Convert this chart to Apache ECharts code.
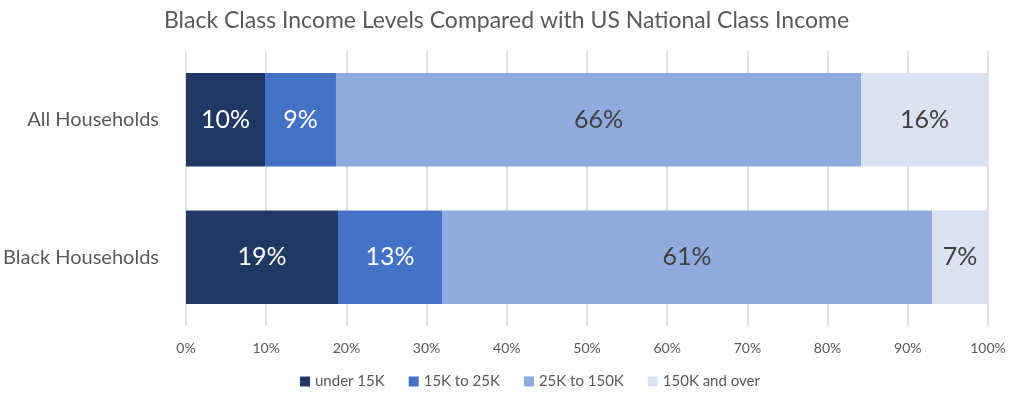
<!DOCTYPE html>
<html>
<head>
<meta charset="utf-8">
<script src="https://cdn.jsdelivr.net/npm/echarts@6/dist/echarts.min.js"></script>
<style>html,body{margin:0;padding:0;background:#fff;}#c{width:1013px;height:395px;}</style>
</head>
<body>
<div id="c"></div>
<script>
const categories = ['All Households', 'Black Households'];
const seriesNames = ['under 15K', '15K to 25K', '25K to 150K', '150K and over'];
const under15K = [9.85, 18.95];
const k15to25 = [8.85, 12.97];
const k25to150 = [65.5, 61.1];
const k150plus = [15.8, 6.98];
const xTicks = [0, 10, 20, 30, 40, 50, 60, 70, 80, 90, 100];

const colors = ['#203864', '#4472C4', '#8FAADC', '#DAE3F3'];
const labelColors = ['#ffffff', '#ffffff', '#404040', '#404040'];
const font = 'Lato, "Open Sans", sans-serif';
const values = [under15K, k15to25, k25to150, k150plus];

const chart = echarts.init(document.getElementById('c'));
chart.setOption({
  animation: false,
  title: {
    text: 'Black Class Income Levels Compared with US National Class Income',
    left: 'center', top: 4,
    textStyle: { fontFamily: font, fontSize: 23, fontWeight: 'normal', color: '#595959' }
  },
  legend: {
    bottom: 1, left: 295, icon: 'rect', itemWidth: 10, itemHeight: 10, itemGap: 24,
    textStyle: { fontFamily: font, fontSize: 15, color: '#595959' },
    data: seriesNames
  },
  grid: { left: 186, right: 25, top: 51, bottom: 69 },
  xAxis: {
    type: 'value', min: xTicks[0], max: xTicks[xTicks.length - 1], interval: 10,
    axisLine: { show: false }, axisTick: { show: false },
    splitLine: { show: true, lineStyle: { color: '#d9d9d9', width: 1.5 } },
    axisLabel: { formatter: '{value}%', color: '#595959', fontFamily: font, fontSize: 14, margin: 15 }
  },
  yAxis: {
    type: 'category', data: categories, inverse: true,
    axisLine: { show: false }, axisTick: { show: false },
    axisLabel: { color: '#595959', fontFamily: font, fontSize: 20, margin: 27 }
  },
  series: seriesNames.map((name, i) => ({
    name: name, type: 'bar', stack: 'total', data: values[i],
    barCategoryGap: '32%',
    itemStyle: { color: colors[i] },
    label: {
      show: true, position: 'inside', color: labelColors[i],
      fontFamily: font, fontSize: 25,
      formatter: p => Math.round(p.value) + '%'
    }
  }))
});
</script>
</body>
</html>
